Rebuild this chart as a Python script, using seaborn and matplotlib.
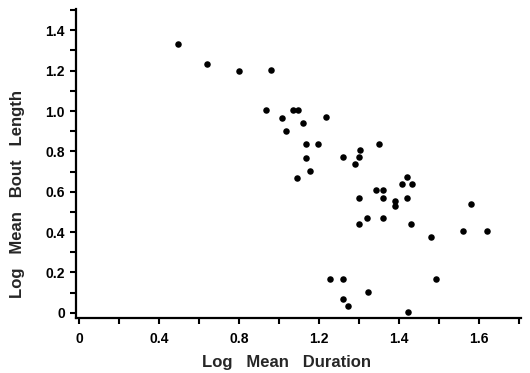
"""plot.py
Scatter of log mean bout length against log mean duration.
"""

import matplotlib.pyplot as plt
import matplotlib.ticker as mticker
import numpy as np
import pandas as pd
import seaborn as sns

# ---- data ----
log_mean_duration = [
    0.494, 0.640, 0.798, 0.958, 0.936, 1.071, 1.096, 1.016, 1.2185, 1.121,
    1.037, 1.137, 1.197, 1.3505, 1.3015, 1.135, 1.260, 1.300, 1.289, 1.156,
    1.091, 1.4205, 1.408, 1.432, 1.3425, 1.3605, 1.3005, 1.3605, 1.4195, 1.5795,
    1.390, 1.3905, 1.319, 1.360, 1.3005, 1.4295, 1.561, 1.620, 1.481, 1.2275,
    1.261, 1.492, 1.322, 1.261, 1.2725, 1.4225,
]
log_mean_bout_length = [
    1.331, 1.234, 1.199, 1.201, 1.004, 1.003, 1.003, 0.966, 0.968, 0.939,
    0.902, 0.837, 0.836, 0.837, 0.805, 0.767, 0.770, 0.770, 0.735, 0.704,
    0.667, 0.671, 0.638, 0.638, 0.606, 0.606, 0.570, 0.570, 0.570, 0.539,
    0.555, 0.530, 0.471, 0.471, 0.441, 0.438, 0.406, 0.406, 0.373, 0.167,
    0.168, 0.169, 0.103, 0.069, 0.032, 0.002,
]

x_ticks = [0, 0.2, 0.4, 0.6, 0.8, 1.0, 1.2, 1.3, 1.4, 1.5, 1.6, 1.7]
x_tick_labels = ["0", "", "0.4", "", "0.8", "", "1.2", "", "1.4", "", "1.6", ""]
y_ticks = [round(0.1 * i, 1) for i in range(16)]
y_tick_labels = ["0" if v == 0 else (f"{v:.1f}" if i % 2 == 0 else "")
                 for i, v in enumerate(y_ticks)]


def _fwd(v):
    # the printed axis is stretched twofold beyond 1.2
    v = np.asarray(v, dtype=float)
    return np.where(v <= 1.2, v, 1.2 + 2.0 * (v - 1.2))


def _inv(u):
    u = np.asarray(u, dtype=float)
    return np.where(u <= 1.2, u, 1.2 + (u - 1.2) / 2.0)


df = pd.DataFrame({"duration": log_mean_duration,
                   "bout": log_mean_bout_length})

sns.set_theme(style="ticks")
plt.rcParams["font.family"] = ["Liberation Sans", "DejaVu Sans"]
plt.rcParams["font.weight"] = "bold"

fig = plt.figure(figsize=(5.30, 3.73), dpi=100)
ax = fig.add_axes([0.1434, 0.1475, 0.8396, 0.828])

sns.scatterplot(data=df, x="duration", y="bout", color="black",
                s=22, linewidth=0, ax=ax)

ax.set_xscale("function", functions=(_fwd, _inv))
ax.set_xlim(-0.015, 1.705)
ax.set_ylim(-0.026, 1.505)

ax.xaxis.set_major_locator(mticker.FixedLocator(x_ticks))
ax.xaxis.set_major_formatter(mticker.FixedFormatter(x_tick_labels))
ax.xaxis.set_minor_locator(mticker.NullLocator())
ax.yaxis.set_major_locator(mticker.FixedLocator(y_ticks))
ax.yaxis.set_major_formatter(mticker.FixedFormatter(y_tick_labels))

for side in ("top", "right"):
    ax.spines[side].set_visible(False)
for side in ("left", "bottom"):
    ax.spines[side].set_linewidth(1.6)
    ax.spines[side].set_color("black")

ax.tick_params(axis="both", direction="out", length=4, width=1.5,
               colors="black", labelsize=10)
ax.tick_params(axis="x", pad=6)
ax.tick_params(axis="y", pad=4)
for lab in ax.get_xticklabels() + ax.get_yticklabels():
    lab.set_fontweight("bold")

ax.set_xlabel("Log   Mean   Duration", fontsize=12, fontweight="bold")
ax.set_ylabel("Log   Mean   Bout   Length", fontsize=12, fontweight="bold")
ax.xaxis.set_label_coords(0.474, -0.12)
ax.yaxis.set_label_coords(-0.115, 0.40)

fig.savefig("out.png", dpi=100)
plt.close(fig)
